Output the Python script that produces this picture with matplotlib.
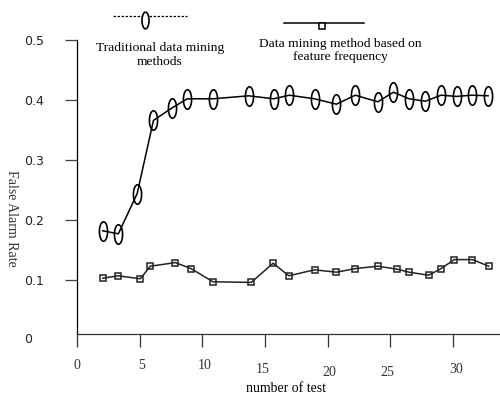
import numpy as np
import matplotlib
matplotlib.use("Agg")
import matplotlib.pyplot as plt
from matplotlib.path import Path
from matplotlib.lines import Line2D
from matplotlib.transforms import ScaledTranslation

# data
trad_x = [2.05, 3.3, 4.8, 6.1, 7.6, 8.8, 10.85, 13.7, 15.7, 16.95, 18.95, 20.7,
          22.2, 24.0, 25.25, 26.5, 27.8, 29.05, 30.3, 31.5, 32.8]
trad_y = [0.182, 0.177, 0.244, 0.366, 0.387, 0.402, 0.402, 0.407, 0.402, 0.408,
          0.402, 0.393, 0.408, 0.397, 0.413, 0.402, 0.398, 0.408, 0.406, 0.408, 0.407]
feat_x = [2.05, 3.3, 5.05, 5.85, 7.85, 9.1, 10.85, 13.9, 15.65, 16.9, 18.95, 20.7,
          22.2, 24.0, 25.55, 26.5, 28.05, 29.05, 30.1, 31.55, 32.85]
feat_y = [0.103, 0.107, 0.102, 0.123, 0.129, 0.119, 0.097, 0.096, 0.128, 0.107,
          0.117, 0.113, 0.119, 0.123, 0.118, 0.113, 0.108, 0.119, 0.134, 0.134, 0.123]
x_ticks = [0, 5, 10, 15, 20, 25, 30]
y_ticks = [0.1, 0.2, 0.3, 0.4, 0.5]
labels = ["Traditional data mining\nmethods", "Data mining method based on\nfeature frequency"]

W, H = 500, 396
serif = "Liberation Serif"

# tall thin ellipse marker
t = np.linspace(0, 2 * np.pi, 60)
ellipse = Path(np.column_stack([0.42 * np.cos(t), np.sin(t)]), closed=True)

fig = plt.figure(figsize=(W / 100, H / 100), dpi=100)
ax = fig.add_axes([77 / W, 1 - 334 / H, 1 - 77 / W, (334 - 40) / H])

ax.plot(trad_x, trad_y, color="black", lw=1.1, marker=ellipse, markersize=14,
        mfc="none", mec="black", mew=1.2)
ax.plot(feat_x, feat_y, color="#222222", lw=1.1, marker="s", markersize=5,
        mfc="none", mec="#222222", mew=1.1)

ax.set_xlim(0, 33.75)
ax.set_ylim(0.01, 0.5)
for s in ["top", "right"]:
    ax.spines[s].set_visible(False)
ax.spines["left"].set_linewidth(0.9)
ax.spines["bottom"].set_linewidth(0.9)
ax.spines["bottom"].set_color("#333333")

ax.set_xticks(x_ticks)
ax.set_xticklabels([str(v) for v in x_ticks], fontfamily=serif, fontsize=10, color="#333333")
ax.tick_params(axis="x", direction="out", length=9, width=0.9, pad=9, color="#333333")
# the x labels sit a bit irregularly in the original
x_off = [(0, 0), (2, 0), (2, 0), (-2, -4), (2, -7), (-3, -7), (3, -4)]
for lab, (dx, dy) in zip(ax.get_xticklabels(), x_off):
    lab.set_transform(lab.get_transform() + ScaledTranslation(dx / 100, dy / 100, fig.dpi_scale_trans))

ax.set_yticks([0.01] + y_ticks)
ax.set_yticklabels(["0"] + [f"{v:.1f}" for v in y_ticks], fontsize=9, color="#222222")
ax.tick_params(axis="y", direction="out", length=9, width=0.9, pad=29, color="#444444")
for lab in ax.get_yticklabels():
    lab.set_horizontalalignment("left")
ax.yaxis.get_major_ticks()[0].tick1line.set_visible(False)
ylab0 = ax.get_yticklabels()[0]
ylab0.set_transform(ylab0.get_transform() + ScaledTranslation(0, -4 / 100, fig.dpi_scale_trans))

fig.text(11.5 / W, 1 - 218 / H, "False Alarm Rate", rotation=270, ha="center", va="center",
         fontfamily=serif, fontsize=10, color="#333333")
fig.text(286 / W, 1 - 388 / H, "number of test", ha="center", va="center",
         fontfamily=serif, fontsize=10)


def fx(px):
    return px / W


def fy(py):
    return 1 - py / H


# hand-placed legend at the top
fig.add_artist(Line2D([fx(113), fx(187)], [fy(15.7), fy(15.7)], color="black",
                      lw=0.9, ls=(0, (2, 1.2)), transform=fig.transFigure))
fig.add_artist(Line2D([fx(145)], [fy(20)], marker=ellipse, markersize=12, mfc="white",
                      mec="black", mew=1.2, ls="none", transform=fig.transFigure))
fig.text(fx(160), fy(55), labels[0], ha="center", va="center", fontfamily=serif,
         fontsize=9.7, linespacing=1.15)

fig.add_artist(Line2D([fx(284), fx(364)], [fy(22.7), fy(22.7)], color="black",
                      lw=1.1, transform=fig.transFigure))
fig.add_artist(Line2D([fx(322)], [fy(25.5)], marker="s", markersize=5, mfc="white",
                      mec="black", mew=1.1, ls="none", transform=fig.transFigure))
fig.text(fx(340), fy(50.5), labels[1], ha="center", va="center", fontfamily=serif,
         fontsize=9.7, linespacing=1.15)

fig.savefig("out.png", dpi=100)
